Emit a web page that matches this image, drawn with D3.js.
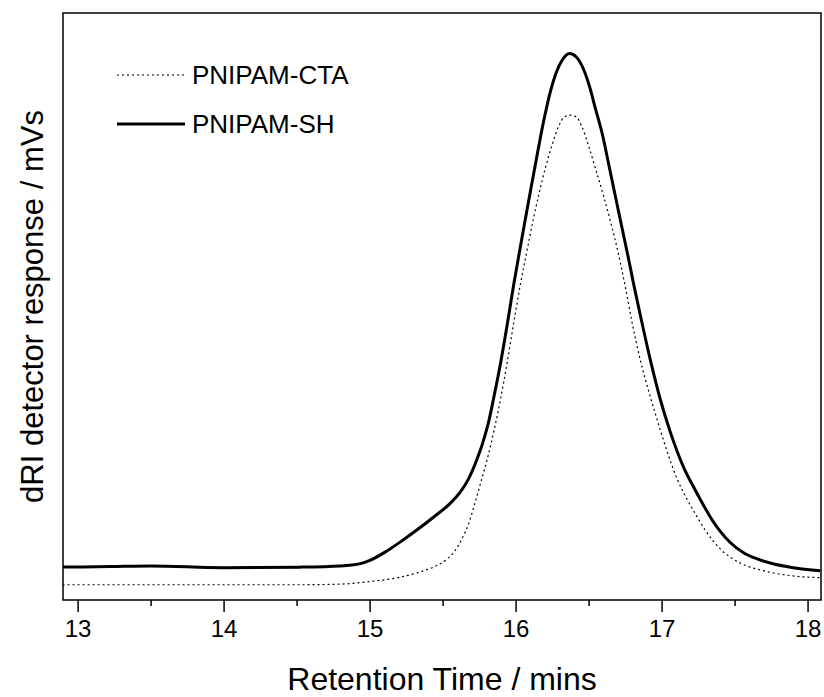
<!DOCTYPE html>
<html>
<head>
<meta charset="utf-8">
<script src="https://cdn.jsdelivr.net/npm/d3@7"></script>
<style>
  body { margin: 0; background: #fff; }
  svg { display: block; font-family: "Liberation Sans", Arial, sans-serif; }
</style>
</head>
<body>
<div id="chart"></div>
<script>
// retention time (mins) and dRI response (arbitrary units, 0-100)
const shTime = [12.897, 13.226, 13.500, 14.000, 14.527, 14.800, 14.937, 15.006, 15.109, 15.211,
  15.328, 15.437, 15.554, 15.622, 15.677, 15.725, 15.773, 15.814, 15.850, 15.896, 15.942,
  15.987, 16.028, 16.067, 16.108, 16.149, 16.190, 16.231, 16.272, 16.320, 16.370, 16.416,
  16.464, 16.505, 16.546, 16.592, 16.649, 16.706, 16.774, 16.813, 16.866, 16.923, 16.991,
  17.060, 17.151, 17.231, 17.286, 17.347, 17.402, 17.470, 17.559, 17.655, 17.744, 17.902, 18.087];
const shValue = [5.6, 5.7, 5.8, 5.5, 5.6, 5.8, 6.2, 6.8, 8.2, 9.9,
  12.0, 14.1, 16.5, 18.4, 20.6, 23.3, 26.6, 30.2, 34.4, 40.2, 46.8,
  53.7, 59.5, 64.9, 70.5, 76.0, 81.3, 85.9, 89.4, 92.0, 93.1, 92.5,
  90.5, 87.6, 83.8, 79.6, 72.9, 66.1, 58.1, 53.3, 47.2, 40.9, 34.2,
  28.6, 22.6, 18.7, 16.2, 13.6, 11.7, 9.8, 8.1, 7.0, 6.3, 5.5, 5.0];

const ctaTime = [12.897, 13.842, 14.527, 14.800, 14.983, 15.211, 15.348, 15.437, 15.531, 15.588,
  15.636, 15.677, 15.718, 15.759, 15.805, 15.850, 15.896, 15.942, 15.987, 16.033, 16.079,
  16.122, 16.163, 16.204, 16.250, 16.295, 16.334, 16.375, 16.416, 16.455, 16.501, 16.546,
  16.603, 16.649, 16.706, 16.752, 16.797, 16.854, 16.923, 16.991, 17.046, 17.107, 17.169,
  17.231, 17.299, 17.402, 17.539, 17.696, 17.902, 18.087];
const ctaValue = [2.6, 2.6, 2.6, 2.7, 3.1, 3.9, 4.8, 5.6, 7.0, 8.5,
  10.6, 12.9, 16.2, 19.8, 23.9, 28.6, 34.1, 40.4, 47.2, 53.8, 59.6,
  64.9, 69.5, 73.6, 77.5, 80.7, 82.3, 82.6, 82.3, 80.6, 77.3, 73.6,
  68.8, 64.6, 58.8, 53.3, 47.4, 40.9, 34.6, 29.0, 24.7, 20.6, 17.4,
  14.7, 11.9, 8.7, 6.3, 5.0, 4.1, 3.8];

const majorTicks = [13, 14, 15, 16, 17, 18];
const minorTicks = [13.5, 14.5, 15.5, 16.5, 17.5];
const seriesNames = ['PNIPAM-CTA', 'PNIPAM-SH'];

const width = 824, height = 697;
const margin = { left: 63, right: 3, top: 13, bottom: 97 };

const svg = d3.select('#chart').append('svg')
  .attr('width', width)
  .attr('height', height);

const x = d3.scaleLinear().domain([12.9, 18.092]).range([margin.left, width - margin.right]);
const y = d3.scaleLinear().domain([0, 100]).range([height - margin.bottom, margin.top]);

// clip so lines stay inside the frame
svg.append('clipPath').attr('id', 'plot-clip')
  .append('rect')
  .attr('x', margin.left).attr('y', margin.top)
  .attr('width', width - margin.left - margin.right)
  .attr('height', height - margin.top - margin.bottom);

const line = d3.line()
  .x(d => x(d[0]))
  .y(d => y(d[1]))
  .curve(d3.curveMonotoneX);

const ctaData = ctaTime.map((t, i) => [t, ctaValue[i]]);
const shData = shTime.map((t, i) => [t, shValue[i]]);

const plot = svg.append('g').attr('clip-path', 'url(#plot-clip)');

plot.append('path')
  .datum(ctaData)
  .attr('fill', 'none')
  .attr('stroke', '#000')
  .attr('stroke-width', 1.2)
  .attr('stroke-dasharray', '2,3')
  .attr('d', line);

plot.append('path')
  .datum(shData)
  .attr('fill', 'none')
  .attr('stroke', '#000')
  .attr('stroke-width', 3)
  .attr('stroke-linejoin', 'round')
  .attr('d', line);

// frame
svg.append('rect')
  .attr('x', margin.left).attr('y', margin.top)
  .attr('width', width - margin.left - margin.right)
  .attr('height', height - margin.top - margin.bottom)
  .attr('fill', 'none')
  .attr('stroke', '#000')
  .attr('stroke-width', 1.5);

// bottom axis: major ticks with labels, minor ticks without
const xAxis = svg.append('g')
  .attr('transform', `translate(0,${height - margin.bottom})`)
  .call(d3.axisBottom(x).tickValues(majorTicks).tickSize(12).tickPadding(8).tickFormat(d3.format('d')));
xAxis.select('.domain').remove();
xAxis.selectAll('.tick line').attr('stroke-width', 1.5);
xAxis.selectAll('.tick text')
  .attr('font-size', 24)
  .attr('font-family', '"Liberation Sans", Arial, sans-serif')
  .attr('fill', '#000');

const xMinor = svg.append('g')
  .attr('transform', `translate(0,${height - margin.bottom})`)
  .call(d3.axisBottom(x).tickValues(minorTicks).tickSize(6).tickFormat(''));
xMinor.select('.domain').remove();
xMinor.selectAll('.tick line').attr('stroke-width', 1.5);

// axis titles
svg.append('text')
  .attr('x', (margin.left + width - margin.right) / 2)
  .attr('y', 690)
  .attr('text-anchor', 'middle')
  .attr('font-size', 32)
  .text('Retention Time / mins');

svg.append('text')
  .attr('transform', `translate(43,${(margin.top + height - margin.bottom) / 2}) rotate(-90)`)
  .attr('text-anchor', 'middle')
  .attr('font-size', 31)
  .text('dRI detector response / mVs');

// legend
const legend = svg.append('g');
const legendY = [75, 124];
legend.selectAll('line')
  .data(seriesNames)
  .join('line')
  .attr('x1', 117).attr('x2', 185)
  .attr('y1', (d, i) => legendY[i]).attr('y2', (d, i) => legendY[i])
  .attr('stroke', '#000')
  .attr('stroke-width', (d, i) => i === 0 ? 1.2 : 3)
  .attr('stroke-dasharray', (d, i) => i === 0 ? '2,3' : null);
legend.selectAll('text')
  .data(seriesNames)
  .join('text')
  .attr('x', 192)
  .attr('y', (d, i) => legendY[i] + 9)
  .attr('font-size', 26)
  .text(d => d);
</script>
</body>
</html>
